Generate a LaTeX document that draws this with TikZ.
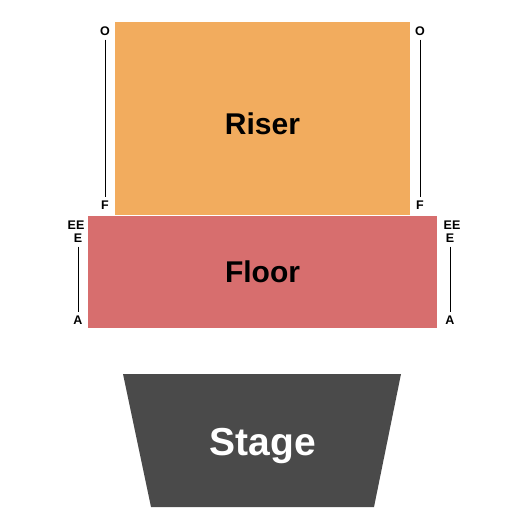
\documentclass[tikz,border=0pt]{standalone}
\usepackage{fontspec}
\setmainfont{Liberation Sans}
\definecolor{riser}{HTML}{F2AC5E}
\definecolor{floorc}{HTML}{D76E6E}
\definecolor{stagec}{HTML}{4A4A4A}
\begin{document}
\begin{tikzpicture}[x=1pt,y=-1pt,
  rowlbl/.style={font=\bfseries\fontsize{12.5}{13}\selectfont, inner sep=0pt, anchor=center},
  big/.style={font=\bfseries\fontsize{30}{32}\selectfont, inner sep=0pt},
  rowline/.style={draw=black, line width=0.9pt}]
\useasboundingbox (0,0) rectangle (525,525);
\fill[riser] (115,22) rectangle (410,215);
\node[big] (riser) at (262.5,124) {Riser};
\fill[floorc] (88,216) rectangle (437,328);
\node[big] (floor) at (262.5,272) {Floor};
\fill[stagec] (123,374) -- (401,374) -- (374,507) -- (151,507) -- cycle;
\node[big, white, font=\bfseries\fontsize{39}{41}\selectfont] (stage) at (263,446) {Stage};
% left riser
\node[rowlbl] (lo) at (105,31) {O};
\node[rowlbl] (lf) at (105,205) {F};
\draw[rowline] ([yshift=-4pt]lo.south) -- ([yshift=4pt]lf.north);
\node[rowlbl] (ro) at (420,31) {O};
\node[rowlbl] (rf) at (420,205) {F};
\draw[rowline] ([yshift=-4pt]ro.south) -- ([yshift=4pt]rf.north);
% floor
\node[rowlbl] (lee) at (76,225) {EE};
\node[rowlbl] (le) at (78,238) {E};
\node[rowlbl] (la) at (78,320) {A};
\draw[rowline] ([yshift=-4pt]le.south) -- ([yshift=4pt]la.north);
\node[rowlbl] (ree) at (452,225) {EE};
\node[rowlbl] (re) at (450,238) {E};
\node[rowlbl] (ra) at (450,320) {A};
\draw[rowline] ([yshift=-4pt]re.south) -- ([yshift=4pt]ra.north);
\end{tikzpicture}
\end{document}
